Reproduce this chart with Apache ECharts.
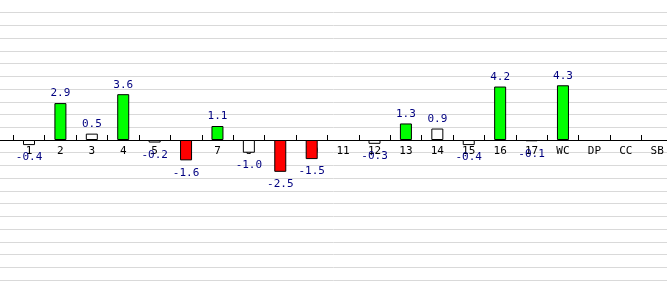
<!DOCTYPE html>
<html>
<head>
<meta charset="utf-8">
<script src="https://cdn.jsdelivr.net/npm/echarts@6/dist/echarts.min.js"></script>
<style>html,body{margin:0;padding:0;background:#fff;}#c{width:667px;height:281px;}</style>
</head>
<body>
<div id="c"></div>
<script>
var categories = ['1','2','3','4','5','6','7','8','9','10','11','12','13','14','15','16','17','WC','DP','CC','SB'];
var values = [-0.4, 2.9, 0.5, 3.6, -0.2, -1.6, 1.1, -1.0, -2.5, -1.5, null, -0.3, 1.3, 0.9, -0.4, 4.2, -0.1, 4.3, null, null, null];
var yMin = -11, yMax = 11, gridMax = 10, yStep = 1;

function barColor(v) {
  if (v > 1) return '#00ff00';
  if (v < -1) return '#ff0000';
  return '#ffffff';
}

var barData = values.map(function (v) {
  if (v === null) return null;
  return {
    value: v,
    itemStyle: { color: barColor(v) },
    label: { position: v >= 0 ? 'top' : 'bottom', distance: v >= 0 ? 4 : 7 }
  };
});

var H = 281, plotH = 280;
var unit = plotH / (yMax - yMin);
var zeroY = unit * yMax;

var chart = echarts.init(document.getElementById('c'), null, { renderer: 'canvas' });
chart.setOption({
  animation: false,
  backgroundColor: '#ffffff',
  grid: [
    { left: 0, right: 0, top: unit * (yMax - gridMax), bottom: H - plotH, containLabel: false, outerBoundsMode: 'none' },
    { left: 13.3, right: -5.9, top: 0, bottom: H - plotH, containLabel: false, outerBoundsMode: 'none' }
  ],
  xAxis: [
    {
      gridIndex: 0, type: 'value', min: 0, max: 1,
      axisLine: { show: true, onZero: true, lineStyle: { color: '#000', width: 1 } },
      axisTick: { show: false }, axisLabel: { show: false }, splitLine: { show: false }
    },
    {
      gridIndex: 1, type: 'category', data: categories, position: 'bottom',
      offset: -(plotH - zeroY),
      axisLine: { show: true, onZero: false, lineStyle: { color: '#000', width: 1 } },
      axisTick: { show: true, inside: true, length: 5, lineStyle: { color: '#000', width: 1 } },
      axisLabel: { color: '#000', fontFamily: 'DejaVu Sans Mono', fontSize: 11, margin: 6 },
      splitLine: { show: false }
    }
  ],
  yAxis: [
    {
      gridIndex: 0, type: 'value', min: yMin, max: gridMax, interval: yStep,
      axisLine: { show: false }, axisTick: { show: false }, axisLabel: { show: false },
      splitLine: { show: true, lineStyle: { color: '#d9d9d9', width: 1 } }
    },
    {
      gridIndex: 1, type: 'value', min: yMin, max: yMax, interval: yStep,
      axisLine: { show: false }, axisTick: { show: false }, axisLabel: { show: false },
      splitLine: { show: false }
    }
  ],
  series: [
    {
      type: 'bar', xAxisIndex: 1, yAxisIndex: 1, data: barData, barWidth: 12,
      itemStyle: { borderColor: '#000', borderWidth: 1 },
      label: {
        show: true, color: '#000080', fontFamily: 'DejaVu Sans Mono', fontSize: 11,
        formatter: function (p) { return p.value == null ? '' : Number(p.value).toFixed(1); }
      }
    }
  ]
});
</script>
</body>
</html>
